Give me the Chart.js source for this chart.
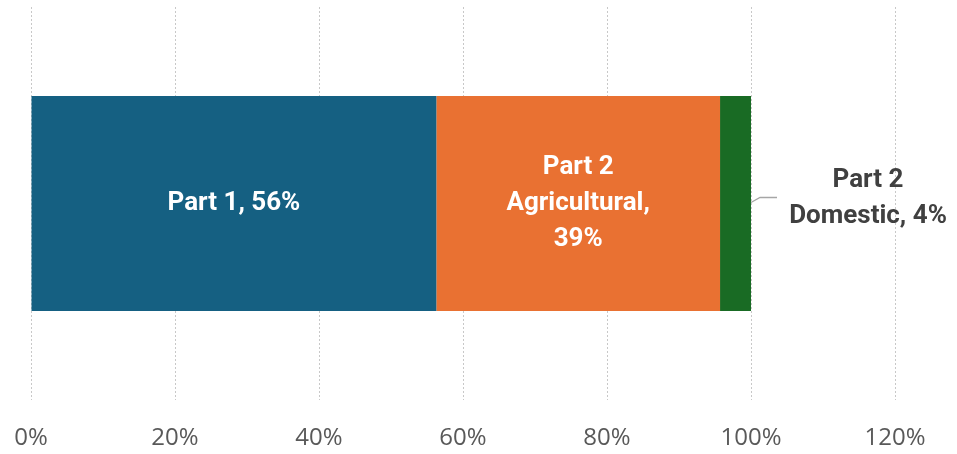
<!DOCTYPE html>
<html>
<head>
<meta charset="utf-8">
<script src="https://cdn.jsdelivr.net/npm/chart.js@4"></script>
<style>
html,body{margin:0;padding:0;background:#fff;}
#wrap{width:957px;height:454px;position:relative;}
</style>
</head>
<body>
<div id="wrap"><canvas id="c" width="957" height="454"></canvas></div>
<script>
const categories = ["Share"];
const seriesNames = ["Part 1", "Part 2 Agricultural", "Part 2 Domestic"];
const part1 = [56.3];
const part2Agricultural = [39.4];
const part2Domestic = [4.3];
const seriesColors = ["#156082", "#E97132", "#196B24"];
const dataLabels = [
  ["Part 1, 56%"],
  ["Part 2", "Agricultural,", "39%"],
  ["Part 2", "Domestic, 4%"]
];
const xTicks = [0, 20, 40, 60, 80, 100, 120];

const labelPlugin = {
  id: 'barLabels',
  afterDatasetsDraw(chart) {
    const ctx = chart.ctx;
    ctx.save();
    ctx.font = 'bold 26px Roboto, "Liberation Sans", sans-serif';
    ctx.textAlign = 'center';
    ctx.textBaseline = 'middle';
    const lh = 36;
    chart.data.datasets.forEach((ds, i) => {
      const el = chart.getDatasetMeta(i).data[0];
      const lines = dataLabels[i];
      if (i < 2) {
        const cx = (el.x + el.base) / 2;
        const cy = el.y;
        ctx.fillStyle = '#ffffff';
        lines.forEach((t, k) => {
          ctx.fillText(t, cx, cy + (k - (lines.length - 1) / 2) * lh);
        });
      } else {
        ctx.strokeStyle = '#a6a6a6';
        ctx.lineWidth = 1.3;
        ctx.beginPath();
        ctx.moveTo(el.x, el.y - 1);
        ctx.lineTo(el.x + 9, el.y - 6);
        ctx.lineTo(el.x + 26, el.y - 6);
        ctx.stroke();
        const cx = el.x + 117;
        const cy = el.y - 5;
        ctx.fillStyle = '#404040';
        lines.forEach((t, k) => {
          ctx.fillText(t, cx, cy + (k - (lines.length - 1) / 2) * lh);
        });
      }
    });
    ctx.restore();
  }
};

new Chart(document.getElementById('c'), {
  type: 'bar',
  data: {
    labels: categories,
    datasets: [
      { label: seriesNames[0], data: part1, backgroundColor: seriesColors[0] },
      { label: seriesNames[1], data: part2Agricultural, backgroundColor: seriesColors[1] },
      { label: seriesNames[2], data: part2Domestic, backgroundColor: seriesColors[2] }
    ]
  },
  options: {
    indexAxis: 'y',
    responsive: false,
    animation: false,
    devicePixelRatio: 1,
    layout: { padding: { left: 31, right: 62, top: 7, bottom: 0 } },
    datasets: { bar: { categoryPercentage: 1, barPercentage: 0.547, borderWidth: 0 } },
    plugins: { legend: { display: false }, tooltip: { enabled: false } },
    scales: {
      x: {
        stacked: true,
        min: xTicks[0],
        max: xTicks[xTicks.length - 1],
        afterBuildTicks(axis) { axis.ticks = xTicks.map(v => ({ value: v })); },
        afterFit(axis) { axis.height = 54; axis.paddingLeft = 0; axis.paddingRight = 0; },
        border: { display: false, dash: [2, 2] },
        grid: { color: '#c8c8c8', lineWidth: 1, drawTicks: false },
        ticks: {
          padding: 24,
          color: '#595959',
          font: { family: '"Open Sans", "Liberation Sans", sans-serif', size: 24 },
          callback: v => v + '%'
        }
      },
      y: {
        stacked: true,
        display: false
      }
    }
  },
  plugins: [labelPlugin]
});
</script>
</body>
</html>
